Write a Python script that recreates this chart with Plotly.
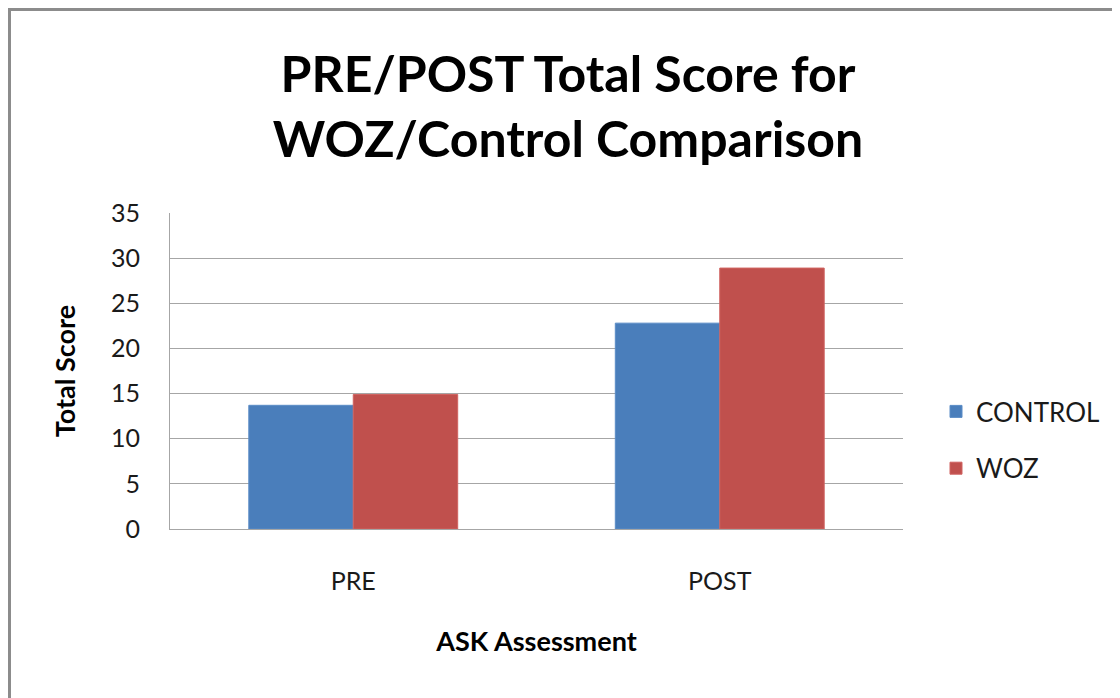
import plotly.graph_objects as go

categories = ["PRE", "POST"]
control = [13.7, 22.8]
woz = [14.9, 28.9]
y_ticks = [0, 5, 10, 15, 20, 25, 30, 35]

# the page body adds an 8px offset, so figure coordinates = page coordinates - 8
W, H = 1120, 698
L, T = 162, 205
pw, ph = 733, 316
R, B = W - L - pw, H - T - ph

FONT = "Lato"

fig = go.Figure()
fig.add_trace(go.Bar(name="CONTROL", x=categories, y=control,
                     marker=dict(color="#4A7EBB", line=dict(color="#5B8CC6", width=1)),
                     legendgroup="a"))
fig.add_trace(go.Bar(name="WOZ", x=categories, y=woz,
                     marker=dict(color="#C0504D", line=dict(color="#D06360", width=1)),
                     legendgroup="b"))

fig.update_layout(
    width=W, height=H,
    margin=dict(l=L, r=R, t=T, b=B),
    paper_bgcolor="white", plot_bgcolor="white",
    barmode="group", bargap=0.43, bargroupgap=0,
    font=dict(family=FONT, color="#1a1a1a", size=25),
    title=dict(text="PRE/POST Total Score for<br>WOZ/Control Comparison",
               font=dict(family=FONT, size=50, color="black", weight="bold"),
               x=560 / W, xanchor="center", xref="container",
               y=1 - 84 / H, yanchor="middle", yref="container"),
    legend=dict(x=(928 - L) / pw, xanchor="left", y=1 - (432 - T) / ph, yanchor="middle",
                font=dict(size=26, family=FONT, color="#1a1a1a"),
                tracegroupgap=20, bgcolor="rgba(0,0,0,0)", itemwidth=30),
    showlegend=True,
)

fig.update_yaxes(range=[0, 35], tickvals=y_ticks, showgrid=True, gridcolor="#A6A6A6", gridwidth=1,
                 showline=True, linecolor="#A6A6A6", linewidth=1, ticks="",
                 ticklabelstandoff=24, zeroline=False,
                 tickfont=dict(size=25, family=FONT, color="#1a1a1a"),
                 title=dict(text="<b>Total Score</b>", standoff=27,
                            font=dict(size=27, family=FONT, color="black")))
fig.update_xaxes(showline=True, linecolor="#A6A6A6", linewidth=1, ticks="", ticklabelstandoff=30,
                 tickfont=dict(size=25, family=FONT, color="#1a1a1a"),
                 title=dict(text="<b>ASK Assessment</b>", standoff=38,
                            font=dict(size=27, family=FONT, color="black")))

# outer chart border (top and left visible)
fig.add_shape(type="rect", xref="paper", yref="paper",
              x0=(1.5 - L) / pw, x1=(1135 - L) / pw,
              y0=-(720 - (H - B)) / ph, y1=1 + (T - 1.5) / ph,
              line=dict(color="#8C8C8C", width=3), layer="above")

fig.write_html("out.html")
